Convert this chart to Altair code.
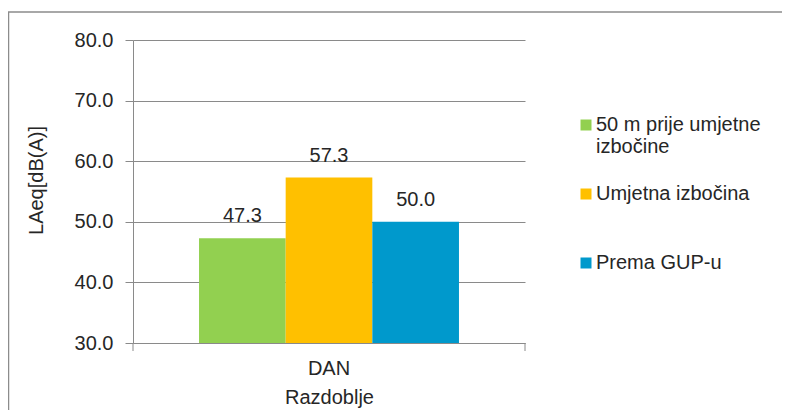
import altair as alt
import pandas as pd

periods = ["DAN", "DAN", "DAN"]
series = ["50 m prije umjetne izbočine", "Umjetna izbočina", "Prema GUP-u"]
values = [47.3, 57.3, 50.0]
colors = ["#92D050", "#FFC000", "#0099CC"]
y_ticks = [30, 40, 50, 60, 70, 80]

df = pd.DataFrame({"period": periods, "series": series, "value": values})

W, H = 392, 303
FONT = "Liberation Sans"
FS = 20
TXT = "#262626"
GRID = "#8a8a8a"

x_enc = alt.X(
    "period:N",
    title="Razdoblje",
    scale=alt.Scale(paddingInner=0, paddingOuter=0.254),
    axis=alt.Axis(
        labelAngle=0, ticks=False, domainColor=GRID, labelPadding=15,
        titlePadding=9, labelFontSize=FS, titleFontSize=FS,
        titleFontWeight="normal", labelColor=TXT, titleColor=TXT,
    ),
)
xo_enc = alt.XOffset("series:N", sort=series,
                     scale=alt.Scale(paddingInner=0, paddingOuter=0))
y_enc = alt.Y(
    "value:Q",
    title="LAeq[dB(A)]",
    scale=alt.Scale(domain=[30, 80], nice=False, zero=False),
    axis=alt.Axis(
        values=y_ticks, format=".1f", tickSize=8, tickColor=GRID,
        domainColor=GRID, gridColor=GRID, grid=True, labelPadding=12,
        titlePadding=28, titleY=140, labelFontSize=FS, titleFontSize=FS,
        titleFontWeight="normal", labelColor=TXT, titleColor=TXT,
    ),
)

base = alt.Chart(df)

bars = base.mark_bar(clip=True).encode(
    x=x_enc,
    xOffset=xo_enc,
    y=y_enc,
    color=alt.Color(
        "series:N",
        sort=series,
        scale=alt.Scale(domain=series, range=colors),
        legend=alt.Legend(
            title=None, orient="none", legendX=443, legendY=75,
            symbolType="square", symbolSize=121, symbolStrokeWidth=0,
            labelFontSize=FS, labelColor=TXT, labelOffset=0, labelLimit=400,
            rowPadding=27,
            labelExpr="datum.label == '50 m prije umjetne izbočine' ? ['50 m prije umjetne', 'izbočine'] : [datum.label, '']",
        ),
    ),
)

labels = base.mark_text(
    baseline="alphabetic", dy=-16, fontSize=FS, font=FONT, color=TXT
).encode(
    x=x_enc,
    xOffset=xo_enc,
    y=y_enc,
    text=alt.Text("value:Q", format=".1f"),
)

edge_df = pd.DataFrame({"edge": [0]})
tick_left = alt.Chart(edge_df).mark_rule(color=GRID).encode(
    x=alt.value(0), y=alt.value(H), y2=alt.value(H + 8)
)
tick_right = alt.Chart(edge_df).mark_rule(color=GRID).encode(
    x=alt.value(W), y=alt.value(H), y2=alt.value(H + 8)
)
frame = alt.Chart(edge_df).mark_rect(
    filled=False, stroke="#8c8c8c", strokeWidth=1.5, clip=False
).encode(
    x=alt.value(-124.5), x2=alt.value(700), y=alt.value(-28), y2=alt.value(420)
)

chart = alt.layer(frame, bars, labels, tick_left, tick_right).properties(
    width=W,
    height=H,
    autosize=alt.AutoSizeParams(type="none"),
    padding={"left": 125, "top": 32, "right": 257, "bottom": 67},
    background="white",
).configure(
    font=FONT,
).configure_view(
    stroke=None,
)

chart.save("out.html", embed_options={"renderer": "svg", "actions": False})
